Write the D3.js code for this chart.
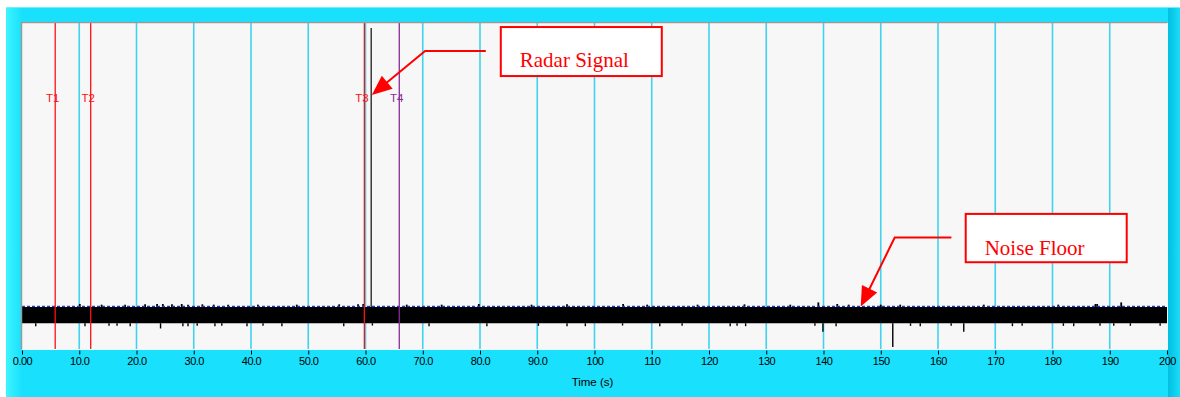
<!DOCTYPE html>
<html>
<head>
<meta charset="utf-8">
<script src="https://cdn.jsdelivr.net/npm/d3@7"></script>
<style>
  html, body { margin: 0; padding: 0; background: #ffffff; }
  svg { display: block; }
</style>
</head>
<body>
<svg id="chart" width="1180" height="397"></svg>
<script>
// ---- data -------------------------------------------------------------
const timeTicks = [0, 10, 20, 30, 40, 50, 60, 70, 80, 90, 100, 110, 120, 130, 140, 150, 160, 170, 180, 190, 200];
const tickLabels = ["0.00", "10.0", "20.0", "30.0", "40.0", "50.0", "60.0", "70.0", "80.0", "90.0",
                    "100", "110", "120", "130", "140", "150", "160", "170", "180", "190", "200"];

const cursorNames = ["T1", "T2", "T3", "T4"];
const cursorTimes = [5.8, 12.0, 59.8, 65.9];

// radar pulse
const signalTime = 61.0;
const signalPeak = 98.5;

// noise band envelope (relative amplitude)
const noiseTimes = [0, 200];
const noiseHigh = [12.9, 12.9];
const noiseLow = [7.9, 7.9];
const noiseFloorLevel = 13.1;

// isolated excursions below the band
const dipTimes = [2.4, 11.0, 15.2, 16.6, 18.9, 24.2, 28.1, 29.0, 30.6, 33.7, 34.9, 39.3, 42.1, 45.4,
                  56.2, 61.2, 71.1, 81.2, 90.2, 95.2, 98.4, 104.9, 111.4, 115.3, 123.7, 124.9, 126.4,
                  138.5, 139.9, 142.2, 152.1, 155.2, 156.9, 162.3, 164.5, 173.0, 174.7, 181.9, 183.7,
                  188.3, 190.7, 193.6, 198.8];
const dipValues = [7.0, 7.0, 7.1, 7.1, 7.0, 6.3, 7.0, 7.0, 7.1, 7.0, 7.1, 7.0, 7.1, 7.0,
                   7.0, 7.2, 7.0, 7.0, 7.1, 7.0, 7.0, 7.2, 7.0, 7.1, 7.0, 7.1, 7.0,
                   7.1, 5.3, 7.0, 0.6, 7.1, 7.0, 7.1, 5.3, 7.0, 7.1, 7.1, 7.0,
                   7.1, 7.1, 7.1, 7.1];

// isolated excursions above the band
const peakTimes = [10.1, 13.9, 18.0, 21.5, 23.6, 24.6, 26.2, 27.9, 29.0, 31.5, 33.5, 36.0, 41.2, 48.0,
                   55.4, 58.7, 59.6, 67.2, 73.3, 79.8, 89.0, 95.2, 105.0, 109.2, 118.0, 126.2, 134.2,
                   139.1, 142.4, 144.4, 150.0, 153.4, 168.0, 181.0, 187.5, 187.8, 192.0];
const peakValues = [13.8, 13.6, 13.6, 13.7, 13.8, 13.8, 13.7, 13.8, 13.6, 13.7, 13.6, 13.6, 13.6, 13.6,
                    13.7, 13.7, 13.8, 13.6, 13.6, 13.8, 13.6, 13.7, 13.8, 13.6, 13.6, 13.7, 13.6,
                    14.3, 13.8, 13.6, 13.6, 13.6, 13.6, 13.6, 13.8, 13.8, 14.3];

// callouts: label and the point (time, amplitude) the arrow points at
const calloutLabels = ["Radar Signal", "Noise Floor"];
const calloutTimes = [61.1, 146.5];
const calloutValues = [77.9, 13.0];

// ---- layout -----------------------------------------------------------
const W = 1180, H = 397;
const plot = { left: 22, right: 1167, top: 23, bottom: 349 };
const cursorColor = { T1: "#ff1010", T2: "#ff1010", T3: "#ff1010", T4: "#8a2a9a" };
const uiFont = "'Liberation Sans', Arial, sans-serif";

const svg = d3.select("#chart");
const defs = svg.append("defs");

// frame gradients
const gl = defs.append("linearGradient").attr("id", "leftEdge").attr("x1", 0).attr("x2", 1);
gl.append("stop").attr("offset", 0).attr("stop-color", "#3ff4ff");
gl.append("stop").attr("offset", 1).attr("stop-color", "#1ae2fd");
const gr = defs.append("linearGradient").attr("id", "rightEdge").attr("x1", 0).attr("x2", 1);
gr.append("stop").attr("offset", 0).attr("stop-color", "#02bfe2");
gr.append("stop").attr("offset", 1).attr("stop-color", "#1adcf8");

// panel
svg.append("rect").attr("x", 6).attr("y", 7).attr("width", W - 6).attr("height", H - 7).attr("fill", "#18e0fd");
svg.append("rect").attr("x", 6).attr("y", 7).attr("width", 15).attr("height", H - 7).attr("fill", "url(#leftEdge)");
svg.append("rect").attr("x", 1168).attr("y", 7).attr("width", 12).attr("height", H - 7).attr("fill", "url(#rightEdge)");
svg.append("rect").attr("x", 6).attr("y", 7).attr("width", W - 6).attr("height", 1).attr("fill", "#6ef0ff");

// scales
const x = d3.scaleLinear().domain([0, 200]).range([plot.left, plot.right]);
const y = d3.scaleLinear().domain([0, 100]).range([plot.bottom, plot.top]);

// plot background
svg.append("rect")
  .attr("x", plot.left).attr("y", plot.top)
  .attr("width", plot.right - plot.left).attr("height", plot.bottom - plot.top)
  .attr("fill", "#f7f7f7");

const g = svg.append("g");

// vertical grid
g.append("g").selectAll("line")
  .data(timeTicks.slice(1, -1))
  .join("line")
  .attr("x1", d => x(d)).attr("x2", d => x(d))
  .attr("y1", plot.top).attr("y2", plot.bottom)
  .attr("stroke", "#3fd3f0").attr("stroke-width", 1.6);

// noise band
const band = noiseTimes.map((t, i) => ({ t, hi: noiseHigh[i], lo: noiseLow[i] }));
g.append("path")
  .datum(band)
  .attr("fill", "#000")
  .attr("d", d3.area().x(d => x(d.t)).y0(d => y(d.lo)).y1(d => y(d.hi)));

// excursions
g.append("g").selectAll("line")
  .data(dipTimes.map((t, i) => ({ t, v: dipValues[i] })))
  .join("line")
  .attr("x1", d => x(d.t)).attr("x2", d => x(d.t))
  .attr("y1", y(noiseLow[0])).attr("y2", d => y(d.v))
  .attr("stroke", "#000").attr("stroke-width", 1.4);
g.append("g").selectAll("line")
  .data(peakTimes.map((t, i) => ({ t, v: peakValues[i] })))
  .join("line")
  .attr("x1", d => x(d.t)).attr("x2", d => x(d.t))
  .attr("y1", y(noiseHigh[0])).attr("y2", d => y(d.v))
  .attr("stroke", "#000").attr("stroke-width", 1.8);

// noise floor reference
g.append("line")
  .attr("x1", x(0)).attr("x2", x(200))
  .attr("y1", y(noiseFloorLevel)).attr("y2", y(noiseFloorLevel))
  .attr("stroke", "#2238c8").attr("stroke-width", 1.3)
  .attr("stroke-dasharray", "3,2");

// radar pulse
g.append("line")
  .attr("x1", x(signalTime)).attr("x2", x(signalTime))
  .attr("y1", y(signalPeak)).attr("y2", y(noiseHigh[0]))
  .attr("stroke", "#3a3a3a").attr("stroke-width", 1.5);

// cursors
const cursors = cursorNames.map((n, i) => ({ n, t: cursorTimes[i] }));
g.append("g").selectAll("line")
  .data(cursors)
  .join("line")
  .attr("x1", d => x(d.t)).attr("x2", d => x(d.t))
  .attr("y1", plot.top).attr("y2", plot.bottom)
  .attr("stroke", d => cursorColor[d.n]).attr("stroke-width", 1.3);
g.append("g").selectAll("text")
  .data(cursors)
  .join("text")
  .attr("x", d => x(d.t) - 2.5).attr("y", 101.5)
  .attr("text-anchor", "middle")
  .attr("font-family", uiFont)
  .attr("font-size", 11.5)
  .attr("fill", d => cursorColor[d.n])
  .text(d => d.n);

// border of plot area
svg.append("path")
  .attr("d", `M${plot.left - 0.5},${plot.bottom}V${plot.top - 0.5}H${plot.right}`)
  .attr("fill", "none").attr("stroke", "#9a9a9a").attr("stroke-width", 1.5);
svg.append("path")
  .attr("d", `M${plot.left},${plot.bottom + 0.5}H${plot.right + 0.5}V${plot.top}`)
  .attr("fill", "none").attr("stroke", "#e8ffff").attr("stroke-width", 1);

// x axis
const axis = d3.axisBottom(x)
  .tickValues(timeTicks)
  .tickFormat((d, i) => tickLabels[i])
  .tickSize(4)
  .tickPadding(3);
const ax = svg.append("g").attr("transform", `translate(0,${plot.bottom + 1.5})`).call(axis);
ax.select(".domain").remove();
ax.selectAll(".tick line").attr("stroke", "#000");
ax.selectAll(".tick text")
  .attr("fill", "#000")
  .attr("font-size", 11)
  .attr("letter-spacing", "-0.5")
  .attr("font-family", uiFont);

svg.append("text")
  .attr("x", (plot.left + plot.right) / 2 - 2).attr("y", 386)
  .attr("text-anchor", "middle")
  .attr("font-family", uiFont)
  .attr("font-size", 11.5)
  .attr("fill", "#000")
  .text("Time (s)");

// callouts: box geometry relative to the arrow tip
const calloutGeom = [
  { elbow: [53.3, -44], start: [114, -44], box: [129, -68, 161, 49], text: [148, -28] },
  { elbow: [34, -69], start: [90.7, -69], box: [105, -92.7, 161, 48.3], text: [124, -52] }
];
const headLen = 20, headHalf = 8.5;

calloutLabels.forEach((label, i) => {
  const tx = x(calloutTimes[i]), ty = y(calloutValues[i]);
  const c = calloutGeom[i];
  const ex = tx + c.elbow[0], ey = ty + c.elbow[1];
  const ang = Math.atan2(ty - ey, tx - ex);
  const bx = tx - headLen * Math.cos(ang), by = ty - headLen * Math.sin(ang);
  const nx = -Math.sin(ang) * headHalf, ny = Math.cos(ang) * headHalf;
  const cg = svg.append("g");
  cg.append("polyline")
    .attr("points", [
      [tx + c.start[0], ty + c.start[1]],
      [ex, ey],
      [bx + 2 * Math.cos(ang), by + 2 * Math.sin(ang)]
    ].map(p => p.join(",")).join(" "))
    .attr("fill", "none").attr("stroke", "#ff0000").attr("stroke-width", 2);
  cg.append("path")
    .attr("d", `M${tx},${ty}L${bx + nx},${by + ny}L${bx - nx},${by - ny}Z`)
    .attr("fill", "#ff0000");
  cg.append("rect")
    .attr("x", tx + c.box[0]).attr("y", ty + c.box[1])
    .attr("width", c.box[2]).attr("height", c.box[3])
    .attr("fill", "#ffffff").attr("stroke", "#ff0000").attr("stroke-width", 2);
  cg.append("text")
    .attr("x", tx + c.text[0]).attr("y", ty + c.text[1])
    .attr("font-family", "'Liberation Serif', 'Times New Roman', serif")
    .attr("font-size", 21)
    .attr("fill", "#ff0000")
    .text(label);
});
</script>
</body>
</html>
